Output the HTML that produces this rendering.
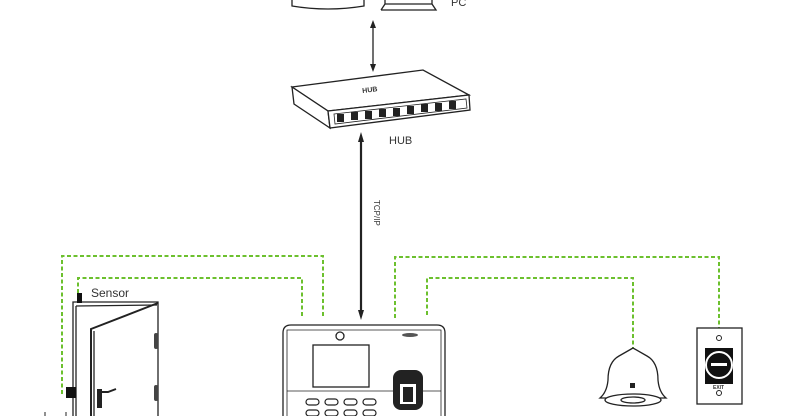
<!DOCTYPE html>
<html><head><meta charset="utf-8"><style>
html,body{margin:0;padding:0;background:#fff;width:785px;height:416px;overflow:hidden}
svg{display:block}
text{font-family:"Liberation Sans",sans-serif;fill:#333}
</style></head><body>
<svg width="785" height="416" viewBox="0 0 785 416" xmlns="http://www.w3.org/2000/svg">
<g fill="none" stroke="#222" stroke-width="1.3">
<path d="M292,0 L292,6 Q328,12 364,6 L364,0"/>
<path d="M381,10 L436,10 L432,4 L432,0 M381,10 L385,4 L385,0 M385,4 L432,4"/>
<line x1="373" y1="25" x2="373" y2="67"/>
</g>
<path d="M373,20 L370,28 L376,28Z M373,72 L370,64 L376,64Z" fill="#222"/>
<text x="451" y="6" font-size="11">PC</text>
<g fill="#fff" stroke="#222" stroke-width="1.3">
<path d="M292,87 L423,70 L469,95 L328,111 Z"/>
<path d="M292,87 L328,111 L330,128 L294,104 Z"/>
<path d="M328,111 L469,95 L470,110 L330,128 Z"/>
</g>
<g fill="#222">
<path d="M334,114 L466,99 L467,108 L335,124 Z" fill="none" stroke="#222" stroke-width="0.8"/>
<rect x="337" y="114" width="7" height="8"/><rect x="351" y="112" width="7" height="8"/><rect x="365" y="111" width="7" height="8"/><rect x="379" y="109" width="7" height="8"/><rect x="393" y="108" width="7" height="8"/><rect x="407" y="106" width="7" height="8"/><rect x="421" y="104" width="7" height="8"/><rect x="435" y="103" width="7" height="8"/><rect x="449" y="101" width="7" height="8"/>
</g>
<text x="362" y="92" font-size="7" font-weight="bold" fill="#222" transform="rotate(-7 370 88)">HUB</text>
<text x="389" y="144" font-size="11">HUB</text>
<line x1="361" y1="140" x2="361" y2="314" stroke="#222" stroke-width="2.2"/>
<path d="M361,132 L358,142 L364,142Z M361,320 L358,310 L364,310Z" fill="#222"/>
<text x="0" y="0" font-size="8" fill="#555" transform="translate(374,200) rotate(90)">TCP/IP</text>
<g fill="none" stroke="#6cc02e" stroke-width="2" stroke-dasharray="4,2.5">
<path d="M62,394 L62,256 L323,256 L323,318"/>
<path d="M78,293 L78,278 L302,278 L302,317"/>
<path d="M395,318 L395,257 L719,257 L719,328"/>
<path d="M427,315 L427,278 L633,278 L633,349"/>
</g>
<text x="91" y="297" font-size="12">Sensor</text>
<g fill="none" stroke="#222" stroke-width="1.3">
<path d="M73,416 L73,302 L158,302 L158,416"/>
<line x1="76" y1="306" x2="76" y2="416"/>
<line x1="76" y1="306" x2="157" y2="305"/>
<path d="M91,416 L91,329 L158,303" stroke-width="2"/>
<line x1="94" y1="331" x2="94" y2="416"/>
</g>
<rect x="97" y="389" width="5" height="19" fill="#222"/>
<path d="M100,392 L108,392 L116,389" fill="none" stroke="#222" stroke-width="2"/>
<rect x="77" y="293" width="5" height="10" fill="#111"/>
<rect x="66" y="387" width="10" height="11" fill="#111"/>
<rect x="154" y="333" width="4" height="16" rx="2" fill="#444"/>
<rect x="154" y="385" width="4" height="16" rx="2" fill="#444"/>
<line x1="45" y1="412" x2="45" y2="416" stroke="#222"/><line x1="66" y1="412" x2="66" y2="416" stroke="#222"/>
<g fill="none" stroke="#222" stroke-width="1.3">
<path d="M283,416 L283,333 Q283,325 291,325 L437,325 Q445,325 445,333 L445,416"/>
<path d="M287,416 L287,330 L441,330 L441,416" stroke-width="0.8"/>
<circle cx="340" cy="336" r="4"/>
<rect x="313" y="345" width="56" height="42"/>
<line x1="287" y1="391" x2="441" y2="391" stroke-width="0.8"/>
<g stroke-width="1.2">
<rect x="306" y="399" width="13" height="6" rx="3"/><rect x="325" y="399" width="13" height="6" rx="3"/><rect x="344" y="399" width="13" height="6" rx="3"/><rect x="363" y="399" width="13" height="6" rx="3"/>
<rect x="306" y="410" width="13" height="6" rx="3"/><rect x="325" y="410" width="13" height="6" rx="3"/><rect x="344" y="410" width="13" height="6" rx="3"/><rect x="363" y="410" width="13" height="6" rx="3"/>
</g>
</g>
<ellipse cx="410" cy="335" rx="8" ry="2" fill="#555"/>
<rect x="393" y="370" width="30" height="40" rx="8" fill="#222"/>
<rect x="400" y="384" width="16" height="20" fill="#fff"/>
<rect x="403" y="387" width="10" height="15" fill="#222"/>
<g fill="#fff" stroke="#222" stroke-width="1.3">
<path d="M633,348 Q626,352 619,356 Q608,362 608,380 Q607,392 600,398 L666,398 Q659,392 658,380 Q658,362 647,356 Q640,352 633,348Z"/>
<ellipse cx="633" cy="400" rx="28" ry="6"/>
<ellipse cx="633" cy="400" rx="12" ry="3"/>
</g>
<rect x="630" y="383" width="5" height="5" fill="#222"/>
<rect x="697" y="328" width="45" height="76" fill="#fff" stroke="#222" stroke-width="1.3"/>
<circle cx="719" cy="338" r="2.5" fill="none" stroke="#222"/>
<circle cx="719" cy="393" r="2.5" fill="none" stroke="#222"/>
<rect x="705" y="348" width="28" height="36" fill="#111"/>
<circle cx="719" cy="365" r="13" fill="#111" stroke="#fff" stroke-width="2"/>
<rect x="711" y="363" width="16" height="3" fill="#fff"/>
<text x="713" y="389" font-size="5" fill="#fff" font-weight="bold">EXIT</text>
</svg>
</body></html>
